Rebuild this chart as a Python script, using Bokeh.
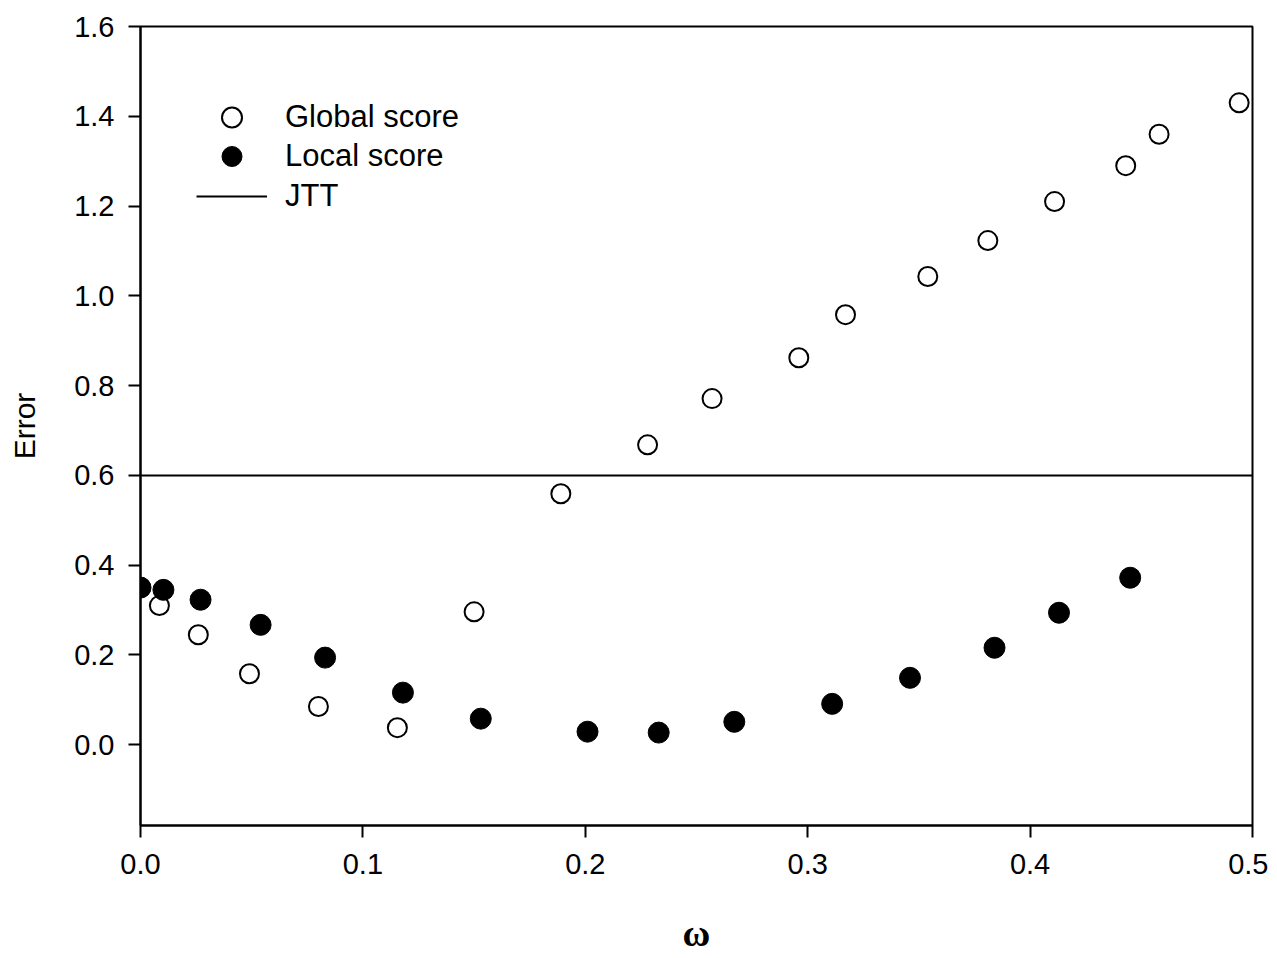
from bokeh.plotting import figure
from bokeh.models import Legend, LegendItem, FixedTicker, NumeralTickFormatter, Range1d
from bokeh.embed import file_html
from bokeh.resources import INLINE

# ---- data ----
global_omega = [0.0, 0.0085, 0.026, 0.049, 0.080, 0.1155, 0.150, 0.189, 0.228, 0.257,
                0.296, 0.317, 0.354, 0.381, 0.411, 0.443, 0.458, 0.494]
global_error = [0.350, 0.310, 0.245, 0.158, 0.085, 0.038, 0.296, 0.559, 0.668, 0.771,
                0.862, 0.958, 1.043, 1.123, 1.210, 1.290, 1.360, 1.430]
local_omega = [0.0, 0.0103, 0.027, 0.054, 0.083, 0.118, 0.153, 0.201, 0.233, 0.267,
               0.311, 0.346, 0.384, 0.413, 0.445]
local_error = [0.350, 0.345, 0.323, 0.267, 0.194, 0.116, 0.058, 0.029, 0.027, 0.051,
               0.091, 0.149, 0.216, 0.294, 0.372]
jtt_error = 0.6

x_ticks = [0.0, 0.1, 0.2, 0.3, 0.4, 0.5]
y_ticks = [0.0, 0.2, 0.4, 0.6, 0.8, 1.0, 1.2, 1.4, 1.6]
x_limits = (0.0, 0.5)
y_limits = (-0.18, 1.6)
x_title = "ω"
y_title = "Error"
legend_labels = ["Global score", "Local score", "JTT"]

FONT = "Liberation Sans"

p = figure(width=1268, height=956, output_backend="svg", toolbar_location=None,
           x_range=Range1d(*x_limits), y_range=Range1d(*y_limits),
           min_border_left=140, min_border_right=16, min_border_top=26, min_border_bottom=130)
p.grid.visible = False
p.background_fill_color = "white"
p.outline_line_color = "black"
p.outline_line_width = 2
p.outline_line_alpha = 1

for ax in (p.xaxis[0], p.yaxis[0]):
    ax.axis_line_width = 2
    ax.major_tick_line_width = 2
    ax.major_tick_in = 0
    ax.major_tick_out = 12
    ax.minor_tick_in = 0
    ax.minor_tick_out = 0
    ax.major_label_text_font = FONT
    ax.major_label_text_font_size = "29px"
    ax.major_label_text_color = "black"
    ax.formatter = NumeralTickFormatter(format="0.0")

p.xaxis.ticker = FixedTicker(ticks=x_ticks)
p.yaxis.ticker = FixedTicker(ticks=y_ticks)
p.xaxis.major_label_standoff = 16
p.yaxis.major_label_standoff = 14

p.xaxis.axis_label = x_title
p.xaxis.axis_label_text_font = "Liberation Serif"
p.xaxis.axis_label_text_font_style = "bold"
p.xaxis.axis_label_text_font_size = "38px"
p.xaxis.axis_label_text_color = "black"
p.xaxis.axis_label_standoff = 35

p.yaxis.axis_label = y_title
p.yaxis.axis_label_text_font = FONT
p.yaxis.axis_label_text_font_style = "normal"
p.yaxis.axis_label_text_font_size = "30px"
p.yaxis.axis_label_text_color = "black"
p.yaxis.axis_label_standoff = 30

jtt = p.line(x=list(x_limits), y=[jtt_error, jtt_error], line_color="black", line_width=2)
g = p.scatter(global_omega, global_error, marker="circle", size=19,
              fill_color="white", line_color="black", line_width=2)
l = p.scatter(local_omega, local_error, marker="circle", size=21,
              fill_color="black", line_color="black", line_width=1)

# one legend box per row so that rows can sit closer than the glyph box height
for label, renderer, row_bottom in zip(legend_labels, [g, l, jtt], [683, 644, 604]):
    lg = Legend(items=[LegendItem(label=label, renderers=[renderer])],
                location=(56, row_bottom), padding=0, margin=0, spacing=0,
                glyph_width=71, glyph_height=50, label_height=50,
                label_standoff=18, label_text_font=FONT, label_text_font_size="31px",
                label_text_color="black",
                border_line_alpha=0, background_fill_alpha=0)
    p.add_layout(lg, "center")

open("out.html", "w").write(file_html(p, INLINE))
